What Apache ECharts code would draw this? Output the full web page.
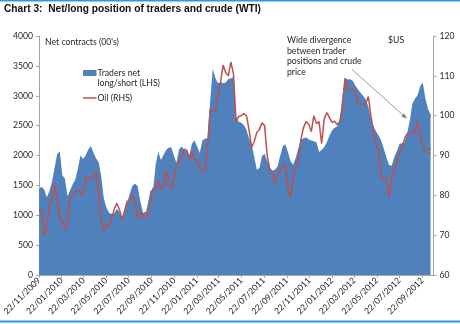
<!DOCTYPE html>
<html><head><meta charset="utf-8">
<script src="https://cdn.jsdelivr.net/npm/echarts@6/dist/echarts.min.js"></script>
<style>html,body{margin:0;padding:0;background:#fff}#c{width:460px;height:324px}</style>
</head><body><div id="c"></div>
<script>
// Weekly observations starting 22/11/2009
const startDate = '22/11/2009';
const tickLabels = ['22/11/2009','22/01/2010','22/03/2010','22/05/2010','22/07/2010','22/09/2010','22/11/2010','22/01/2011','22/03/2011','22/05/2011','22/07/2011','22/09/2011','22/11/2011','22/01/2012','22/03/2012','22/05/2012','22/07/2012','22/09/2012'];
const axisEnd = '22/10/2012';
const tradersNet = [
1440,1475,1430,1300,1400,1560,1790,2020,2070,1670,
1610,1320,1420,1520,1600,1780,2000,1940,2000,2100,
2160,2050,1950,1890,1650,1280,1130,1040,1020,1030,
1110,1060,930,1090,1210,1360,1490,1530,1490,1250,
1060,1000,1200,1420,1420,1850,2064,1925,2010,2090,
2130,2140,2000,1880,2100,2150,2090,2080,2010,2200,
2250,2150,2040,2250,2280,2290,2900,3450,3300,3210,
3230,3210,3220,3280,3290,3320,2650,2566,2550,2510,
2430,2290,2180,1980,1760,1790,1990,2030,1910,1800,
1750,1760,1820,1990,2150,2190,2060,1910,1845,1960,
2120,2260,2290,2300,2270,2250,2240,2220,2060,2090,
2140,2220,2330,2420,2465,2490,2600,3000,3300,3270,
3275,3250,3170,3110,3050,3000,2940,2820,2620,2490,
2400,2330,2245,2110,1965,1840,1830,1970,2070,2190,
2210,2220,2380,2580,2870,2950,3010,3160,3220,2960,
2780,2690];
const oilPrice = [
76.2,76.0,70.0,72.0,77.5,79.3,83.0,79.3,74.3,73.3,
71.5,73.8,79.0,80.1,80.8,81.2,80.8,80.1,84.5,84.5,
83.8,84.8,86.0,80.5,73.8,71.0,72.8,72.5,74.0,76.5,
78.0,76.5,74.0,76.0,78.5,78.8,80.0,78.8,74.3,75.5,
74.8,75.8,74.5,78.0,81.8,81.6,83.5,81.8,81.8,86.2,
84.3,81.5,84.0,87.3,88.4,89.5,91.6,91.3,89.0,91.0,
89.0,88.9,86.4,86.0,86.5,92.5,101.5,101.5,101.0,105.0,
108.3,112.7,110.8,110.0,113.5,110.5,98.5,99.8,100.0,100.5,
100.0,96.5,92.0,93.5,95.8,96.5,98.2,97.5,90.0,86.6,
85.6,83.0,85.2,86.3,87.2,87.7,82.0,79.4,84.5,87.0,
88.5,94.0,97.0,98.5,97.9,96.0,100.0,98.0,98.5,93.0,
99.2,100.8,99.5,98.3,98.6,97.8,98.5,102.0,109.4,106.6,
106.7,106.8,105.5,103.1,102.9,103.0,102.9,104.8,100.0,96.0,
92.5,91.5,84.0,84.3,84.0,79.7,84.0,86.5,88.5,90.8,
91.5,94.3,95.5,95.6,95.6,95.9,98.5,94.8,92.2,91.0,
90.8,90.4];

function parseDMY(s){const p=s.split('/');return Date.UTC(+p[2],+p[1]-1,+p[0]);}
const DAY=86400000;
const t0=parseDMY(startDate);
// x positions as days since start date
const weekDays=tradersNet.map((_,i)=>i*7);
const tickDays=tickLabels.map(s=>Math.round((parseDMY(s)-t0)/DAY));
const endDays=Math.round((parseDMY(axisEnd)-t0)/DAY);

const chart=echarts.init(document.getElementById('c'),null,{renderer:'canvas'});
const FONT='Lato';
const txt='#262626';
function labelFor(v){let best=0,bd=Infinity;tickDays.forEach((t,i)=>{const d=Math.abs(t-v);if(d<bd){bd=d;best=i;}});return tickLabels[best];}

chart.setOption({
  animation:false,
  grid:{left:39,right:26.5,top:36,bottom:49,containLabel:false},
  xAxis:{type:'value',min:0,max:endDays,
    axisLine:{lineStyle:{color:'#A6A6A6',width:1}},
    axisTick:{show:true,inside:false,length:3,lineStyle:{color:'#A6A6A6'},customValues:tickDays},
    axisLabel:{rotate:45,margin:4,fontSize:8.6,fontFamily:FONT,color:txt,customValues:tickDays,formatter:v=>labelFor(v),hideOverlap:false},
    splitLine:{show:false}},
  yAxis:[
    {type:'value',min:0,max:4000,interval:500,position:'left',
     axisLine:{show:true,lineStyle:{color:'#A6A6A6'}},
     axisTick:{show:true,inside:false,length:3,lineStyle:{color:'#A6A6A6'}},
     axisLabel:{fontSize:8.6,fontFamily:FONT,color:txt,margin:6,formatter:v=>String(v)},
     splitLine:{show:false}},
    {type:'value',min:60,max:120,interval:10,position:'right',
     axisLine:{show:true,lineStyle:{color:'#A6A6A6'}},
     axisTick:{show:true,inside:false,length:3,lineStyle:{color:'#A6A6A6'}},
     axisLabel:{fontSize:8.6,fontFamily:FONT,color:txt,margin:6,formatter:v=>String(v)},
     splitLine:{show:false}}
  ],
  series:[
    {name:'Traders net long/short (LHS)',type:'line',yAxisIndex:0,symbol:'none',
     data:weekDays.map((d,i)=>[d,tradersNet[i]]),
     lineStyle:{width:0},areaStyle:{color:'#4F81BD',opacity:1},itemStyle:{color:'#4F81BD'},z:2},
    {name:'Oil (RHS)',type:'line',yAxisIndex:1,symbol:'none',
     data:weekDays.map((d,i)=>[d,oilPrice[i]]),
     lineStyle:{width:1.5,color:'#C0504D'},itemStyle:{color:'#C0504D'},z:3}
  ],
  graphic:[
    {type:'rect',shape:{x:0,y:0,width:460,height:1.5},style:{fill:'#2E9AD8'},silent:true},
    {type:'rect',shape:{x:0,y:320.5,width:460,height:2},style:{fill:'#2E9AD8'},silent:true},
    {type:'text',x:4,y:9.5,style:{text:'Chart 3:  Net/long position of traders and crude (WTI)',font:'bold 10.2px "Liberation Sans", Arial, sans-serif',fill:'#111',verticalAlign:'middle'}},
    {type:'text',x:45,y:42,style:{text:"Net contracts (00's)",font:'8.7px Lato',fill:txt,verticalAlign:'middle'}},
    {type:'rect',shape:{x:83,y:70,width:13.5,height:6},style:{fill:'#4F81BD'}},
    {type:'text',x:97.5,y:73,style:{text:'Traders net',font:'8.7px Lato',fill:txt,verticalAlign:'middle'}},
    {type:'text',x:97.5,y:83.5,style:{text:'long/short (LHS)',font:'8.7px Lato',fill:txt,verticalAlign:'middle'}},
    {type:'line',shape:{x1:83,y1:98,x2:96.5,y2:98},style:{stroke:'#C0504D',lineWidth:1.5}},
    {type:'text',x:97.5,y:98,style:{text:'Oil (RHS)',font:'8.7px Lato',fill:txt,verticalAlign:'middle'}},
    {type:'text',x:287,y:35,style:{text:'Wide divergence\nbetween trader\npositions and crude\nprice',font:'8.7px Lato',fill:txt,lineHeight:10.6,verticalAlign:'top'}},
    {type:'text',x:388,y:40.5,style:{text:'$US',font:'8.7px Lato',fill:txt,verticalAlign:'middle'}},
    {type:'line',shape:{x1:352,y1:69.5,x2:405,y2:116.8},style:{stroke:'#808080',lineWidth:0.8}},
    {type:'polygon',shape:{points:[[407,118.8],[401.2,116.6],[404.2,113.2]]},style:{fill:'#808080'}},
    {type:'polyline',shape:{points:[[430.5,116],[422.5,116],[422.5,149],[430.5,149]]},style:{stroke:'#000',lineWidth:1.8,fill:null,lineJoin:'round'}},
    {type:'line',shape:{x1:415,y1:132.5,x2:422.5,y2:132.5},style:{stroke:'#000',lineWidth:1.8}}
  ]
});
</script></body></html>
